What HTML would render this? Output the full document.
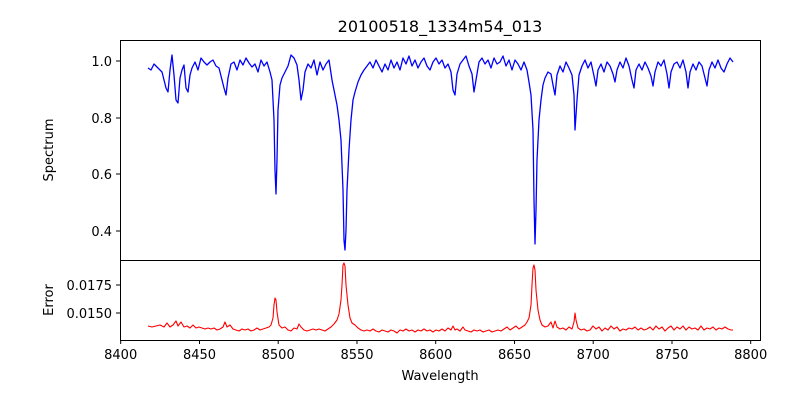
<!DOCTYPE html>
<html><head><meta charset="utf-8"><style>
body{margin:0;background:#fff;}
svg{display:block;font-family:"DejaVu Sans","Liberation Sans",sans-serif;}
</style></head><body>
<svg width="800" height="400" viewBox="0 0 800 400" xmlns="http://www.w3.org/2000/svg">
<rect width="800" height="400" fill="#fff"/>
<text x="440" y="32" font-size="16" text-anchor="middle">20100518_1334m54_013</text>
<g transform="translate(2,0)">
<path fill="none" stroke="#0000ff" stroke-width="1.3" stroke-linejoin="round" d="M146,68 L149,70 L152,64 L155,67 L158,70 L160,72 L162,80 L164,88 L166,92 L168,70 L170,55 L172,75 L174,100 L176,103 L178,78 L180,70 L182,65 L184,88 L186,92 L188,75 L190,68 L193,62 L196,70 L199,58 L202,62 L205,65 L208,62 L211,60 L214,66 L217,68 L220,80 L222,88 L224,95 L226,78 L229,64 L232,62 L235,70 L238,60 L241,65 L244,58 L247,63 L250,67 L253,64 L256,72 L259,60 L262,66 L265,62 L268,72 L270,80 L272,120 L273,170 L274,194 L275,160 L276,110 L278,85 L280,78 L283,72 L286,66 L289,55 L292,58 L295,65 L297,80 L299,100 L301,90 L303,72 L306,64 L309,68 L312,60 L315,75 L318,62 L321,70 L324,64 L327,60 L330,80 L333,95 L335,105 L337,120 L339,140 L341,190 L342,240 L343,250 L344,230 L345,190 L347,150 L349,120 L351,100 L353,92 L356,82 L359,75 L362,70 L365,66 L368,62 L371,68 L374,60 L377,66 L380,72 L383,64 L386,70 L389,60 L392,68 L395,62 L398,70 L401,58 L404,64 L407,56 L410,66 L413,60 L416,68 L419,62 L422,58 L425,66 L428,70 L431,62 L434,58 L437,64 L440,60 L443,68 L446,64 L449,72 L451,90 L453,95 L455,74 L458,64 L461,60 L464,56 L467,66 L470,74 L472,92 L474,80 L477,62 L480,58 L483,64 L486,60 L489,68 L492,58 L495,64 L498,62 L501,56 L504,66 L507,60 L510,70 L513,60 L516,64 L519,70 L522,62 L525,70 L527,82 L529,95 L531,130 L532,200 L533,244 L534,210 L535,160 L537,120 L539,100 L541,85 L543,78 L546,72 L549,74 L551,85 L553,95 L555,75 L558,66 L561,72 L564,62 L567,68 L570,75 L572,95 L573,130 L575,100 L577,75 L580,66 L583,60 L586,68 L589,62 L592,76 L594,86 L596,70 L599,64 L602,72 L605,62 L608,66 L611,74 L613,82 L615,70 L618,62 L621,68 L624,58 L627,66 L630,80 L632,88 L634,70 L637,64 L640,70 L643,62 L646,68 L649,76 L651,86 L653,72 L656,62 L659,66 L662,60 L665,74 L667,88 L669,72 L672,64 L675,62 L678,68 L681,60 L684,72 L686,88 L688,72 L691,64 L694,70 L697,62 L700,66 L703,78 L705,86 L707,70 L710,62 L713,68 L716,60 L719,68 L722,72 L725,64 L728,58 L731,62"/>
<path fill="none" stroke="#ff0000" stroke-width="1.1" stroke-linejoin="round" d="M146,326 L150,327 L154,326 L158,325 L162,327 L165,323 L168,327 L171,325 L174,321 L176,326 L179,322 L182,327 L185,326 L188,328 L191,325 L194,328 L197,327 L200,328 L203,329 L206,328 L209,329 L212,328 L215,330 L218,329 L221,327 L223,322 L225,327 L228,325 L231,329 L234,330 L237,331 L240,329 L243,330 L246,329 L249,331 L252,330 L255,328 L258,330 L261,329 L264,328 L267,327 L269,325 L271,318 L272,305 L273,298 L274,300 L275,312 L277,325 L280,328 L283,327 L286,330 L289,331 L292,328 L295,329 L297,324 L299,327 L302,330 L305,331 L308,330 L311,329 L314,330 L317,329 L320,330 L323,331 L326,329 L329,327 L332,324 L335,320 L337,314 L339,300 L340,285 L341,265 L342,263 L343,266 L344,285 L346,305 L348,318 L350,323 L353,325 L356,328 L359,330 L362,331 L365,330 L368,331 L371,329 L374,331 L377,332 L380,330 L383,331 L386,332 L389,330 L392,331 L395,333 L398,330 L401,331 L404,329 L407,331 L410,330 L413,332 L416,330 L419,331 L422,329 L425,331 L428,330 L431,332 L434,330 L437,331 L440,329 L443,331 L446,328 L449,330 L451,326 L453,330 L455,329 L458,331 L461,327 L463,330 L466,331 L469,332 L472,330 L475,331 L478,330 L481,332 L484,331 L487,330 L490,332 L493,331 L496,330 L499,331 L502,329 L505,327 L508,330 L511,328 L514,326 L517,329 L520,327 L523,325 L525,322 L527,318 L529,305 L530,285 L531,268 L532,265 L533,270 L534,290 L536,310 L538,320 L540,325 L543,327 L546,326 L549,322 L551,328 L553,321 L555,327 L558,329 L561,328 L564,330 L567,327 L570,329 L572,322 L573,313 L574,320 L576,328 L579,330 L582,329 L585,331 L588,330 L591,326 L594,329 L597,327 L600,331 L603,328 L606,330 L609,326 L612,329 L615,327 L618,331 L621,329 L624,330 L627,328 L630,329 L633,327 L636,330 L639,328 L642,330 L645,329 L648,327 L651,330 L654,326 L657,329 L660,327 L663,331 L666,328 L669,326 L672,330 L675,327 L678,329 L681,326 L684,330 L687,327 L690,329 L693,328 L696,330 L699,326 L702,330 L705,328 L708,329 L711,327 L714,330 L717,328 L720,329 L723,327 L726,329 L729,330 L731,330"/>
</g>
<rect x="120.5" y="40.5" width="640" height="220" fill="none" stroke="#000" stroke-width="1"/>
<rect x="120.5" y="260.5" width="640" height="80" fill="none" stroke="#000" stroke-width="1"/>
<g stroke="#000" stroke-width="1">
<line x1="116" y1="61" x2="120" y2="61"/><line x1="116" y1="118" x2="120" y2="118"/>
<line x1="116" y1="174" x2="120" y2="174"/><line x1="116" y1="231" x2="120" y2="231"/>
<line x1="116" y1="285" x2="120" y2="285"/><line x1="116" y1="313" x2="120" y2="313"/>
<line x1="120.7" y1="340" x2="120.7" y2="344"/><line x1="199.5" y1="340" x2="199.5" y2="344"/>
<line x1="278.2" y1="340" x2="278.2" y2="344"/><line x1="357" y1="340" x2="357" y2="344"/>
<line x1="435.7" y1="340" x2="435.7" y2="344"/><line x1="514.5" y1="340" x2="514.5" y2="344"/>
<line x1="593.2" y1="340" x2="593.2" y2="344"/><line x1="672" y1="340" x2="672" y2="344"/>
<line x1="750.7" y1="340" x2="750.7" y2="344"/>
</g>
<g font-size="13" text-anchor="end">
<text x="112" y="66">1.0</text><text x="112" y="123">0.8</text>
<text x="112" y="179">0.6</text><text x="112" y="236">0.4</text>
<text x="112" y="290">0.0175</text><text x="112" y="318">0.0150</text>
</g>
<g font-size="13" text-anchor="middle">
<text x="120.7" y="359">8400</text><text x="199.5" y="359">8450</text><text x="278.2" y="359">8500</text>
<text x="357" y="359">8550</text><text x="435.7" y="359">8600</text><text x="514.5" y="359">8650</text>
<text x="593.2" y="359">8700</text><text x="672" y="359">8750</text><text x="750.7" y="359">8800</text>
<text x="440" y="380">Wavelength</text>
</g>
<text transform="translate(53,150) rotate(-90)" font-size="13" text-anchor="middle">Spectrum</text>
<text transform="translate(53,300) rotate(-90)" font-size="13" text-anchor="middle">Error</text>
</svg>
</body></html>
